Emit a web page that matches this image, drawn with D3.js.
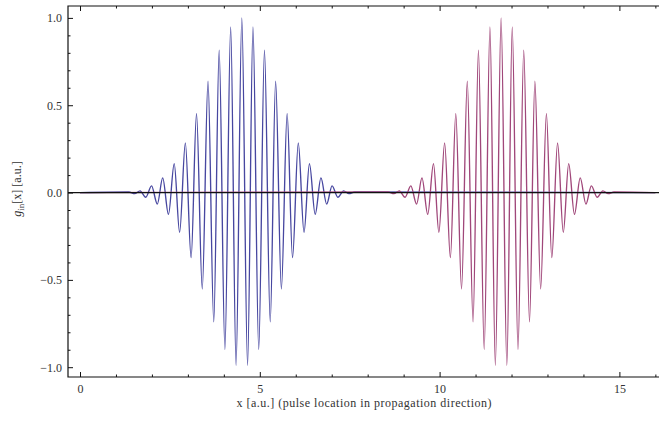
<!DOCTYPE html>
<html>
<head>
<meta charset="utf-8">
<script src="https://cdn.jsdelivr.net/npm/d3@7"></script>
<style>
  html, body { margin: 0; padding: 0; background: #fff; }
  svg { display: block; }
  text { font-family: "Liberation Serif", "DejaVu Serif", serif; fill: #333; }
</style>
</head>
<body>
<svg id="chart" width="659" height="423"></svg>
<script>
// ---- Data (extrema of each wave packet) ----
const blueX = [1.36,1.52,1.67,1.83,1.99,2.15,2.30,2.46,2.62,2.77,2.93,3.09,3.24,3.40,3.56,3.72,3.87,4.03,4.19,4.34,
               4.50,
               4.66,4.81,4.97,5.13,5.29,5.44,5.60,5.76,5.91,6.07,6.23,6.38,6.54,6.70,6.86,7.01,7.17,7.33,7.48,7.64];
const blueY = [0.003,-0.006,0.010,-0.027,0.038,-0.066,0.084,-0.125,0.166,-0.228,0.284,-0.373,0.452,-0.552,0.637,-0.740,0.815,-0.898,0.948,-0.989,
               1.000,
               -0.989,0.948,-0.898,0.815,-0.740,0.637,-0.552,0.452,-0.373,0.284,-0.228,0.166,-0.125,0.084,-0.066,0.038,-0.027,0.010,-0.006,0.003];
const pinkX = [8.57,8.73,8.88,9.04,9.20,9.36,9.51,9.67,9.83,9.98,10.14,10.30,10.45,10.61,10.77,10.93,11.08,11.24,11.40,11.55,
               11.71,
               11.87,12.02,12.18,12.34,12.50,12.65,12.81,12.97,13.12,13.28,13.44,13.59,13.75,13.91,14.07,14.22,14.38,14.54,14.69,14.85];
const pinkY = [0.003,-0.006,0.010,-0.027,0.038,-0.066,0.084,-0.125,0.166,-0.228,0.284,-0.373,0.452,-0.552,0.637,-0.740,0.815,-0.898,0.948,-0.989,
               1.000,
               -0.989,0.948,-0.898,0.815,-0.740,0.637,-0.552,0.452,-0.373,0.284,-0.228,0.166,-0.125,0.084,-0.066,0.038,-0.027,0.010,-0.006,0.003];
const xStart = 0, xEnd = 16;           // plotted range of each curve
const xMajorTicks = [0, 5, 10, 15];
const xMinorTicks = [1,2,3,4,6,7,8,9,11,12,13,14,16];
const yMajorTicks = [-1.0, -0.5, 0.0, 0.5, 1.0];
const yMinorTicks = [-0.9,-0.8,-0.7,-0.6,-0.4,-0.3,-0.2,-0.1,0.1,0.2,0.3,0.4,0.6,0.7,0.8,0.9];
const xLabel = "x [a.u.] (pulse location in propagation direction)";

// ---- Layout ----
const svg = d3.select("#chart");
const frame = {left: 68, right: 662, top: 6, bottom: 377};
const x = d3.scaleLinear().domain([0, 15]).range([80, 619.4]);
const y = d3.scaleLinear().domain([-1, 1]).range([367.2, 17.9]);

const toPts = (xs, ys) => [[xStart, 0]].concat(xs.map((v, i) => [v, ys[i]])).concat([[xEnd, 0]]);
const line = d3.line().x(d => x(d[0])).y(d => y(d[1])).curve(d3.curveMonotoneX);

const plot = svg.append("g");
plot.append("path").datum(toPts(blueX, blueY))
  .attr("d", line).attr("fill", "none").attr("stroke", "#4747a0").attr("stroke-width", 1.35);
plot.append("path").datum(toPts(pinkX, pinkY))
  .attr("d", line).attr("fill", "none").attr("stroke", "#a0477a").attr("stroke-width", 1.35);

// zero axis
svg.append("line")
  .attr("x1", frame.left).attr("x2", frame.right)
  .attr("y1", y(0)).attr("y2", y(0))
  .attr("stroke", "#111").attr("stroke-width", 1.3);

// ---- Axes (ticks pointing inward) ----
function styleAxis(g) {
  g.select(".domain").remove();
  g.selectAll(".tick line").attr("stroke", "#111").attr("stroke-width", 1);
  g.selectAll(".tick text").attr("fill", "#3a3a3a").style("font-size", "12px")
    .style("font-family", "'Liberation Serif', serif");
}
const fmtY = d => d < 0 ? "\u2212" + d3.format(".1f")(-d) : d3.format(".1f")(d);

svg.append("g").attr("transform", `translate(${frame.left},0)`)
  .call(d3.axisLeft(y).tickValues(yMajorTicks).tickFormat(fmtY).tickSizeInner(-5).tickSizeOuter(0).tickPadding(6))
  .call(styleAxis);
svg.append("g").attr("transform", `translate(${frame.left},0)`)
  .call(d3.axisLeft(y).tickValues(yMinorTicks).tickFormat("").tickSizeInner(-2.5).tickSizeOuter(0))
  .call(styleAxis);

svg.append("g").attr("transform", `translate(0,${frame.bottom})`)
  .call(d3.axisBottom(x).tickValues(xMajorTicks).tickFormat(d3.format("d")).tickSizeInner(-5).tickSizeOuter(0).tickPadding(7))
  .call(styleAxis);
svg.append("g").attr("transform", `translate(0,${frame.bottom})`)
  .call(d3.axisBottom(x).tickValues(xMinorTicks).tickFormat("").tickSizeInner(-2.5).tickSizeOuter(0))
  .call(styleAxis);

svg.append("g").attr("transform", `translate(0,${frame.top})`)
  .call(d3.axisTop(x).tickValues(xMajorTicks).tickFormat("").tickSizeInner(-5).tickSizeOuter(0))
  .call(styleAxis);
svg.append("g").attr("transform", `translate(0,${frame.top})`)
  .call(d3.axisTop(x).tickValues(xMinorTicks).tickFormat("").tickSizeInner(-2.5).tickSizeOuter(0))
  .call(styleAxis);

// frame
svg.append("path")
  .attr("d", `M${frame.right},${frame.top}H${frame.left}V${frame.bottom}H${frame.right}`)
  .attr("fill", "none").attr("stroke", "#111").attr("stroke-width", 1.2);

// ---- Axis labels ----
svg.append("text")
  .attr("x", 364).attr("y", 407).attr("text-anchor", "middle")
  .attr("textLength", 255).attr("lengthAdjust", "spacing")
  .style("font-size", "12px").text(xLabel);

const yl = svg.append("text")
  .attr("transform", "translate(21,189) rotate(-90)")
  .attr("text-anchor", "middle").style("font-size", "12px");
yl.append("tspan").style("font-style", "italic").text("g");
yl.append("tspan").attr("dy", 3).style("font-size", "9px").text("in");
yl.append("tspan").attr("dy", -3).text("[x] [a.u.]");
</script>
</body>
</html>
